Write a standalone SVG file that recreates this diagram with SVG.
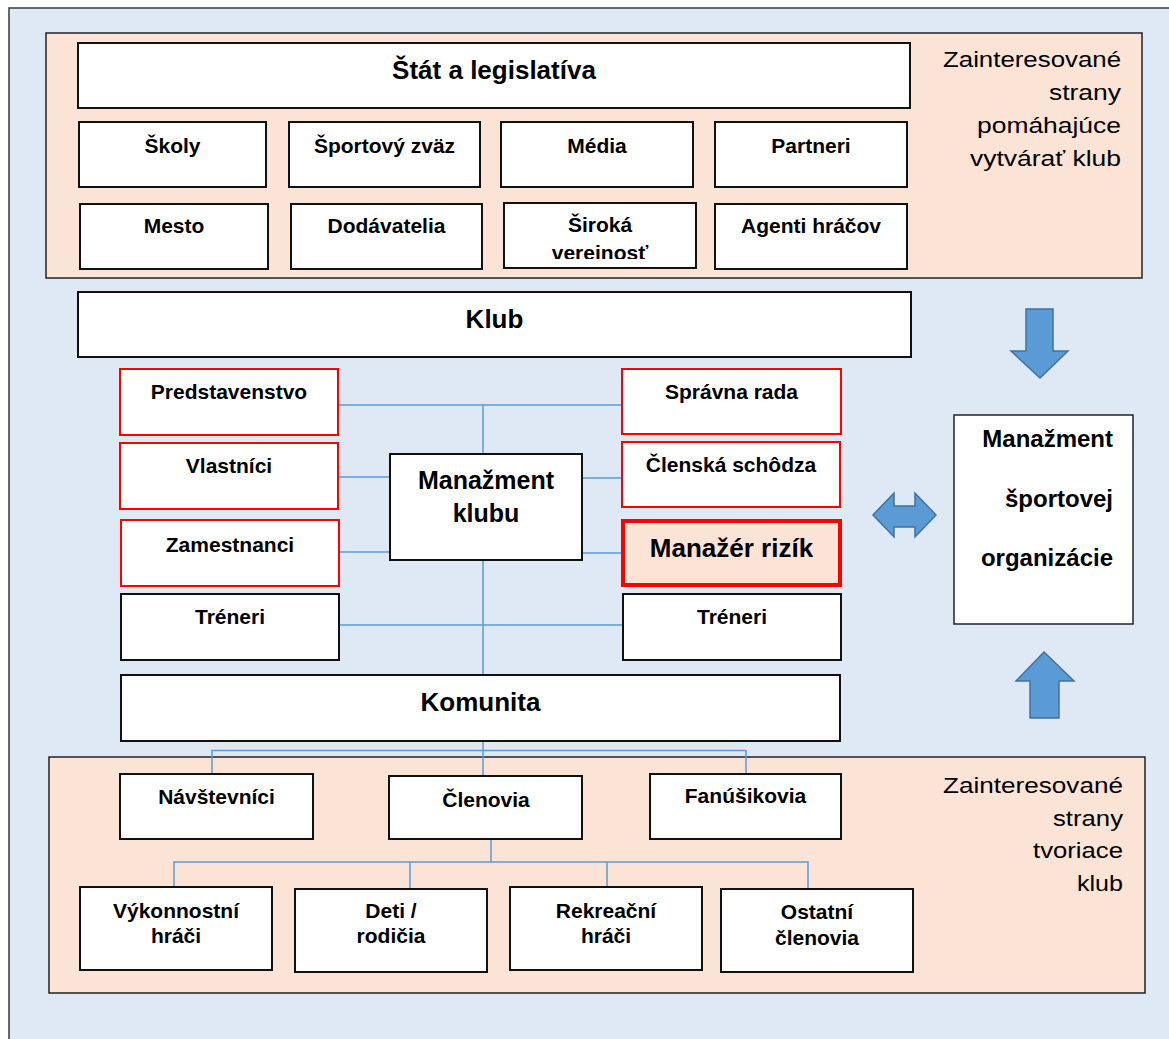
<svg xmlns="http://www.w3.org/2000/svg" width="1169" height="1039" viewBox="0 0 1169 1039">
<style>
.bg{fill:#dee9f5;stroke:#3a3a3a;stroke-width:1.5}
.panel{fill:#fbe4d6;stroke:#222;stroke-width:1.5}
.box{fill:#fff;stroke:#111;stroke-width:2}
.rbox{fill:#fff;stroke:#ff0000;stroke-width:2}
.risk{fill:#fbe4d6;stroke:#ff0000;stroke-width:4}
.thin{fill:#fff;stroke:#222;stroke-width:1.5}
.t{font-family:"Liberation Sans",Arial,sans-serif;font-weight:bold;font-size:21px;text-anchor:middle;fill:#000}
.tl{font-size:26px}
.tm{font-size:25px}
.te{font-family:"Liberation Sans",Arial,sans-serif;font-weight:bold;font-size:24px;text-anchor:end;fill:#000}
.side{font-family:"Liberation Sans",Arial,sans-serif;font-size:22px;text-anchor:end;fill:#000}
.conn line,.conn polyline{stroke:#5b9bd5;stroke-width:1.5;fill:none}
.arrow{fill:#5b9bd5;stroke:#41719c;stroke-width:1.5}
</style>
<defs>
<clipPath id="clipSiroka"><rect x="505" y="204" width="190" height="55"/></clipPath>
</defs>
<rect class="bg" x="9" y="8" width="1200" height="1100"/>

<g id="panel-top">
<rect class="panel" x="46" y="33" width="1096" height="245"/>
<text class="side"><tspan x="1121" y="67" textLength="178" lengthAdjust="spacingAndGlyphs">Zainteresované</tspan><tspan x="1121" y="100" textLength="72" lengthAdjust="spacingAndGlyphs">strany</tspan><tspan x="1121" y="133" textLength="144" lengthAdjust="spacingAndGlyphs">pomáhajúce</tspan><tspan x="1121" y="166" textLength="151" lengthAdjust="spacingAndGlyphs">vytvárať klub</tspan></text>
</g>
<g id="panel-bottom">
<rect class="panel" x="49" y="757" width="1096" height="236"/>
<text class="side"><tspan x="1123" y="793" textLength="180" lengthAdjust="spacingAndGlyphs">Zainteresované</tspan><tspan x="1123" y="826" textLength="70" lengthAdjust="spacingAndGlyphs">strany</tspan><tspan x="1123" y="858" textLength="90" lengthAdjust="spacingAndGlyphs">tvoriace</tspan><tspan x="1123" y="891" textLength="46" lengthAdjust="spacingAndGlyphs">klub</tspan></text>
</g>

<g class="conn" id="connectors">
<line x1="339" y1="405" x2="622" y2="405"/>
<line x1="483" y1="405" x2="483" y2="454"/>
<line x1="339" y1="477" x2="390" y2="477"/>
<line x1="339" y1="552" x2="390" y2="552"/>
<line x1="582" y1="478" x2="622" y2="478"/>
<line x1="582" y1="553" x2="621" y2="553"/>
<line x1="339" y1="625" x2="623" y2="625"/>
<line x1="483" y1="560" x2="483" y2="675"/>
<line x1="483" y1="741" x2="483" y2="776"/>
<polyline points="212,774 212,750.5 746,750.5 746,773"/>
<line x1="491" y1="839" x2="491" y2="862"/>
<polyline points="174,887 174,862 808,862 808,889"/>
<line x1="410" y1="862" x2="410" y2="889"/>
<line x1="607" y1="862" x2="607" y2="887"/>
</g>

<g id="stat"><rect class="box" x="78" y="43" width="832" height="65"/><text class="t tl" x="494" y="79">Štát a legislatíva</text></g>
<g id="skoly"><rect class="box" x="79" y="122" width="187" height="65"/><text class="t" x="172.5" y="153">Školy</text></g>
<g id="sportovy-zvaz"><rect class="box" x="289" y="122" width="191" height="65"/><text class="t" x="384.5" y="153">Športový zväz</text></g>
<g id="media"><rect class="box" x="501" y="122" width="192" height="65"/><text class="t" x="597" y="153">Média</text></g>
<g id="partneri"><rect class="box" x="715" y="122" width="192" height="65"/><text class="t" x="811" y="153">Partneri</text></g>
<g id="mesto"><rect class="box" x="80" y="204" width="188" height="65"/><text class="t" x="174" y="233">Mesto</text></g>
<g id="dodavatelia"><rect class="box" x="291" y="204" width="191" height="65"/><text class="t" x="386.5" y="233">Dodávatelia</text></g>
<g id="siroka"><rect class="box" x="504" y="203" width="192" height="65"/><text class="t" x="600" clip-path="url(#clipSiroka)"><tspan x="600" y="232">Široká</tspan><tspan x="600" y="260">verejnosť</tspan></text></g>
<g id="agenti"><rect class="box" x="715" y="204" width="192" height="65"/><text class="t" x="811" y="233">Agenti hráčov</text></g>

<g id="klub"><rect class="box" x="78" y="292" width="833" height="65"/><text class="t tl" x="494.5" y="328">Klub</text></g>

<g id="predstavenstvo"><rect class="rbox" x="120" y="369" width="218" height="66"/><text class="t" x="229" y="399">Predstavenstvo</text></g>
<g id="vlastnici"><rect class="rbox" x="120" y="443" width="218" height="66"/><text class="t" x="229" y="473">Vlastníci</text></g>
<g id="zamestnanci"><rect class="rbox" x="121" y="520" width="218" height="66"/><text class="t" x="230" y="552">Zamestnanci</text></g>
<g id="treneri-l"><rect class="box" x="121" y="594" width="218" height="66"/><text class="t" x="230" y="624">Tréneri</text></g>

<g id="manazment-klubu"><rect class="box" x="390" y="454" width="192" height="106"/><text class="t tm" x="486"><tspan x="486" y="489">Manažment</tspan><tspan x="486" y="522">klubu</tspan></text></g>

<g id="spravna-rada"><rect class="rbox" x="622" y="369" width="219" height="65"/><text class="t" x="731.5" y="399">Správna rada</text></g>
<g id="clenska-schodza"><rect class="rbox" x="622" y="442" width="218" height="65"/><text class="t" x="731" y="472">Členská schôdza</text></g>
<g id="manazer-rizik"><rect class="risk" x="623" y="521" width="217" height="64"/><text class="t tl" x="731.5" y="557">Manažér rizík</text></g>
<g id="treneri-r"><rect class="box" x="623" y="594" width="218" height="66"/><text class="t" x="732" y="624">Tréneri</text></g>

<g id="komunita"><rect class="box" x="121" y="675" width="719" height="66"/><text class="t tl" x="480.5" y="711">Komunita</text></g>

<g id="navstevnici"><rect class="box" x="120" y="774" width="193" height="65"/><text class="t" x="216.5" y="804">Návštevníci</text></g>
<g id="clenovia"><rect class="box" x="389" y="776" width="193" height="63"/><text class="t" x="486" y="807">Členovia</text></g>
<g id="fanusikovia"><rect class="box" x="650" y="774" width="191" height="65"/><text class="t" x="745.5" y="803">Fanúšikovia</text></g>

<g id="vykonnostni"><rect class="box" x="80" y="887" width="192" height="83"/><text class="t"><tspan x="176" y="918">Výkonnostní</tspan><tspan x="176" y="943">hráči</tspan></text></g>
<g id="deti"><rect class="box" x="295" y="889" width="192" height="83"/><text class="t"><tspan x="391" y="918">Deti /</tspan><tspan x="391" y="943">rodičia</tspan></text></g>
<g id="rekreacni"><rect class="box" x="510" y="887" width="192" height="83"/><text class="t"><tspan x="606" y="918">Rekreační</tspan><tspan x="606" y="943">hráči</tspan></text></g>
<g id="ostatni"><rect class="box" x="721" y="889" width="192" height="83"/><text class="t"><tspan x="817" y="919">Ostatní</tspan><tspan x="817" y="945">členovia</tspan></text></g>

<g id="manazment-sportovej"><rect class="thin" x="954" y="415" width="179" height="209"/><text class="te"><tspan x="1113" y="447">Manažment</tspan><tspan x="1113" y="507">športovej</tspan><tspan x="1113" y="566">organizácie</tspan></text></g>

<g id="arrows">
<polygon class="arrow" points="1026,309 1053,309 1053,351 1068,351 1040,378 1011,351 1026,351"/>
<polygon class="arrow" points="1044,652 1074,681 1059,681 1059,718 1030,718 1030,681 1016,681"/>
<polygon class="arrow" points="873,515 894,493 894,506 915,506 915,493 936,515 915,537 915,527 894,527 894,537"/>
</g>
</svg>
